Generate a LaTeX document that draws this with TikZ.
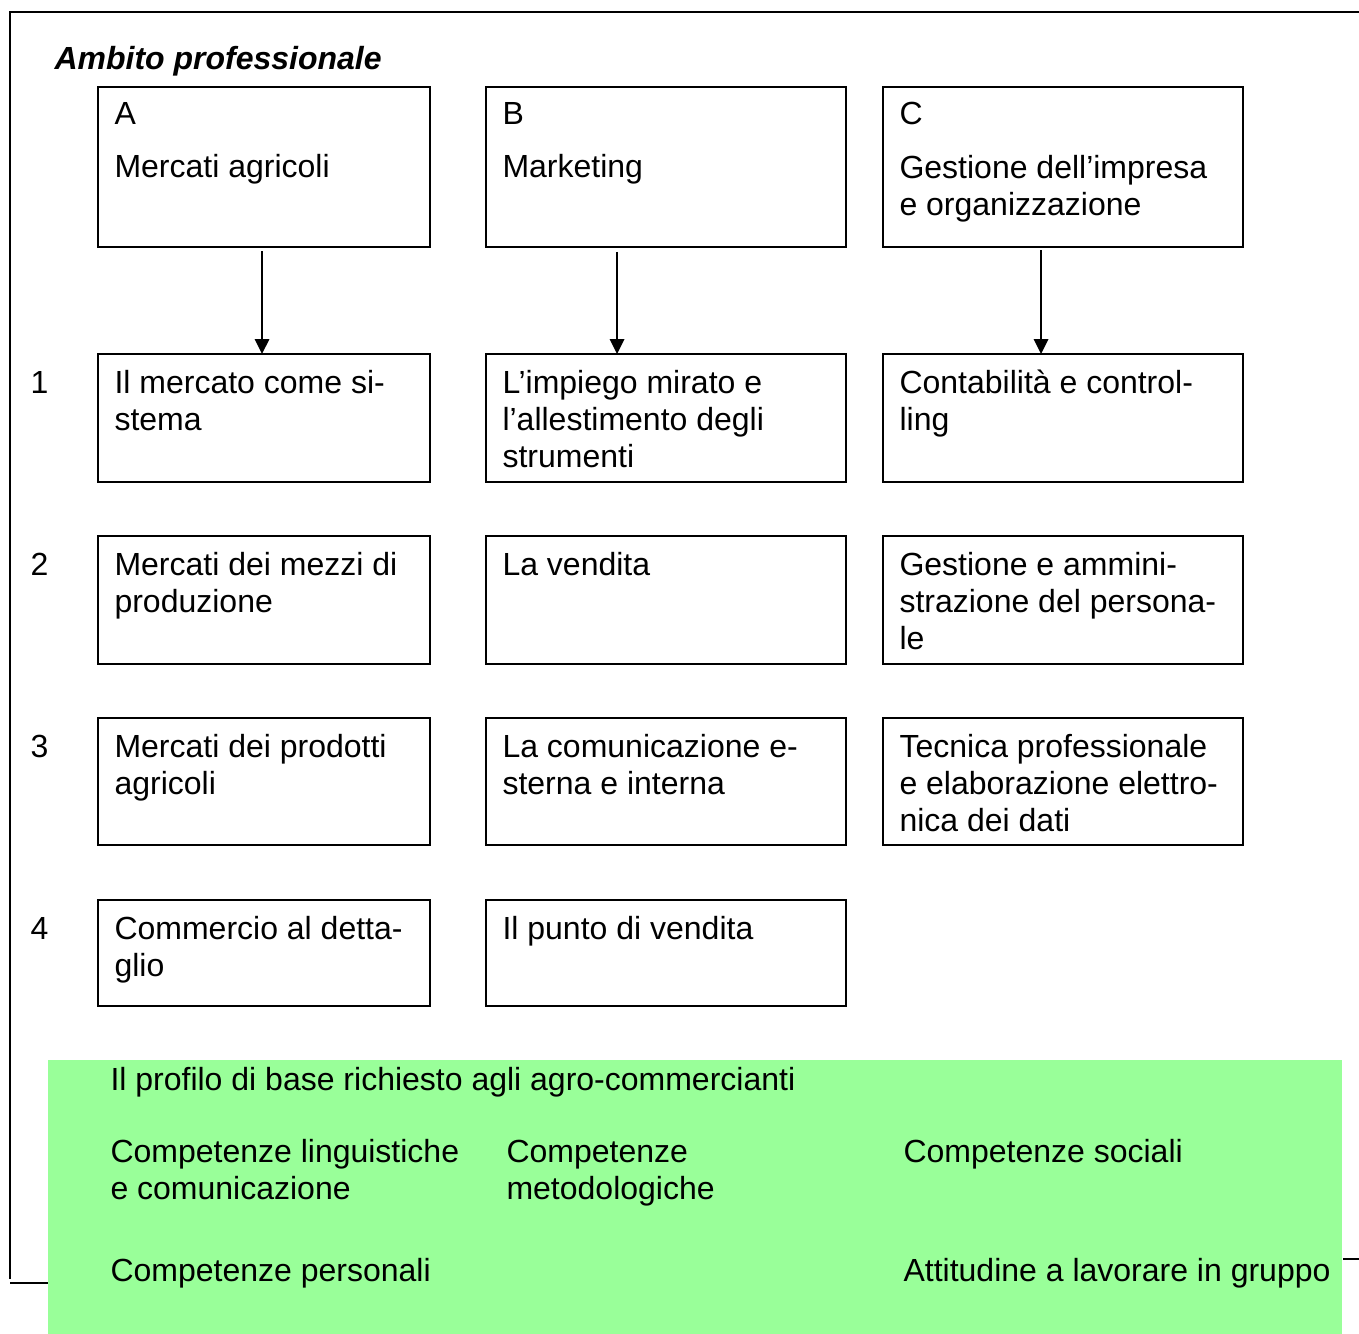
\documentclass[tikz,border=0pt]{standalone}
\usepackage{fontspec}
\setmainfont{Liberation Sans}
\usetikzlibrary{arrows.meta,calc}

\definecolor{panelgreen}{HTML}{99FF99}

\tikzset{
  box/.style={draw, line width=0.75pt, inner sep=0pt, outer sep=0pt, anchor=north west},
  txt/.style={inner sep=0pt, anchor=base west, align=left, font=\fontsize{12}{13.875}\selectfont},
  arr/.style={line width=0.75pt, -{Triangle[length=5.6pt,width=5.4pt]}},
  frame/.style={line width=0.6pt}
}

\begin{document}
\begin{tikzpicture}[x=0.375pt,y=-0.375pt]

  \useasboundingbox (0,0) rectangle (1359,1334);

  \draw[frame] (1359,12) -- (10,12) -- (10,1279);
  \draw[frame] (10,1283) -- (48,1283);
  \draw[frame] (1343,1259) -- (1359,1259);

  \node[txt, font=\fontsize{12}{13.875}\selectfont\bfseries\itshape] (title) at (54,70) {Ambito professionale};

  \node[box, minimum width=124.5pt, minimum height=60pt] (bA) at (98,87) {};
  \node[box, minimum width=135pt, minimum height=60pt] (bB) at (486,87) {};
  \node[box, minimum width=135pt, minimum height=60pt] (bC) at (883,87) {};

  \node[txt] (lA) at (114,125) {A};
  \node[txt] (lB) at (502,125) {B};
  \node[txt] (lC) at (899,125) {C};
  \node[txt] (tA) at (114,178) {Mercati agricoli};
  \node[txt] (tB) at (502,178) {Marketing};
  \node[txt] (tC) at (899,215) {Gestione dell’impresa\\e organizzazione};

  \node[txt] (n1) at (30,393) {1};
  \node[txt] (n2) at (30,575) {2};
  \node[txt] (n3) at (30,757) {3};
  \node[txt] (n4) at (30,939) {4};

  \node[box, minimum width=124.5pt, minimum height=48pt] (a1) at (98,354) {};
  \node[box, minimum width=135pt, minimum height=48pt] (b1) at (486,354) {};
  \node[box, minimum width=135pt, minimum height=48pt] (c1) at (883,354) {};
  \node[box, minimum width=124.5pt, minimum height=48pt] (a2) at (98,536) {};
  \node[box, minimum width=135pt, minimum height=48pt] (b2) at (486,536) {};
  \node[box, minimum width=135pt, minimum height=48pt] (c2) at (883,536) {};
  \node[box, minimum width=124.5pt, minimum height=47.6pt] (a3) at (98,718) {};
  \node[box, minimum width=135pt, minimum height=47.6pt] (b3) at (486,718) {};
  \node[box, minimum width=135pt, minimum height=47.6pt] (c3) at (883,718) {};
  \node[box, minimum width=124.5pt, minimum height=39.75pt] (a4) at (98,900) {};
  \node[box, minimum width=135pt, minimum height=39.75pt] (b4) at (486,900) {};

  \node[txt] (ta1) at (114,430) {Il mercato come si-\\stema};
  \node[txt] (tb1) at (502,467) {L’impiego mirato e\\l’allestimento degli\\strumenti};
  \node[txt] (tc1) at (899,430) {Contabilità e control-\\ling};
  \node[txt] (ta2) at (114,612) {Mercati dei mezzi di\\produzione};
  \node[txt] (tb2) at (502,575) {La vendita};
  \node[txt] (tc2) at (899,649) {Gestione e ammini-\\strazione del persona-\\le};
  \node[txt] (ta3) at (114,794) {Mercati dei prodotti\\agricoli};
  \node[txt] (tb3) at (502,794) {La comunicazione e-\\sterna e interna};
  \node[txt] (tc3) at (899,831) {Tecnica professionale\\e elaborazione elettro-\\nica dei dati};
  \node[txt] (ta4) at (114,976) {Commercio al detta-\\glio};
  \node[txt] (tb4) at (502,939) {Il punto di vendita};

  \draw[arr, shorten <=1.5pt] ($(bA.south west)!0.494!(bA.south east)$) -- ($(a1.north west)!0.494!(a1.north east)$);
  \draw[arr, shorten <=1.8pt] ($(bB.south west)!0.364!(bB.south east)$) -- ($(b1.north west)!0.364!(b1.north east)$);
  \draw[arr, shorten <=1.2pt] ($(bC.south west)!0.439!(bC.south east)$) -- ($(c1.north west)!0.439!(c1.north east)$);

  \node[fill=panelgreen, inner sep=0pt, outer sep=0pt, anchor=north west,
        minimum width=485.25pt, minimum height=102.75pt] (panel) at (48,1060) {};

  \node[txt] (p0) at (110,1090) {Il profilo di base richiesto agli agro-commercianti};
  \node[txt] (p1) at (110,1199) {Competenze linguistiche\\e comunicazione};
  \node[txt] (p2) at (506,1199) {Competenze\\metodologiche};
  \node[txt] (p3) at (903,1162) {Competenze sociali};
  \node[txt] (p4) at (110,1281) {Competenze personali};
  \node[txt] (p5) at (903,1281) {Attitudine a lavorare in gruppo};

\end{tikzpicture}
\end{document}
